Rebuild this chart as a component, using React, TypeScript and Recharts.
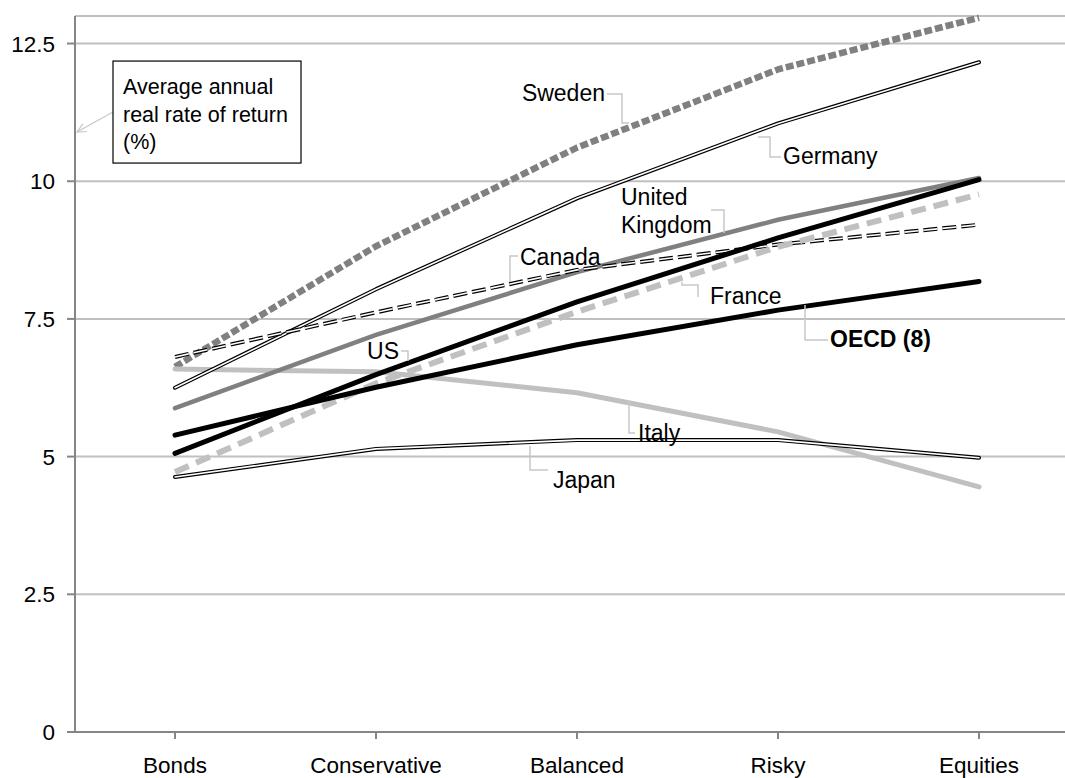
import { CartesianGrid, Line, LineChart, ReferenceDot, XAxis, YAxis } from "recharts";

const FONT = "'Liberation Sans', Arial, Helvetica, sans-serif";

const categories = ["Bonds", "Conservative", "Balanced", "Risky", "Equities"];
const sweden = [6.63, 8.82, 10.61, 12.03, 12.97];
const germany = [6.25, 8.04, 9.69, 11.05, 12.16];
const canada = [6.81, 7.62, 8.39, 8.85, 9.21];
const uk = [5.88, 7.21, 8.35, 9.3, 10.06];
const us = [5.06, 6.49, 7.81, 8.97, 10.03];
const oecd = [5.39, 6.26, 7.03, 7.66, 8.18];
const france = [4.72, 6.33, 7.63, 8.81, 9.76];
const italy = [6.59, 6.54, 6.16, 5.45, 4.45];
const japan = [4.63, 5.14, 5.3, 5.3, 4.98];
const yTicks = [0, 2.5, 5, 7.5, 10, 12.5];

const data = categories.map((name, i) => ({
  name,
  sweden: sweden[i],
  germany: germany[i],
  canada: canada[i],
  uk: uk[i],
  us: us[i],
  oecd: oecd[i],
  france: france[i],
  italy: italy[i],
  japan: japan[i],
}));

type Series = { key: string; stroke: string; width: number; dash?: string; double?: boolean; cap?: "round" | "butt" };

// draw order = z order
const series: Series[] = [
  { key: "sweden", stroke: "#808080", width: 6.5, dash: "8 3" },
  { key: "italy", stroke: "#c0c0c0", width: 5, cap: "round" },
  { key: "japan", stroke: "#000000", width: 4, double: true, cap: "round" },
  { key: "uk", stroke: "#808080", width: 4.5, cap: "round" },
  { key: "germany", stroke: "#000000", width: 4, double: true, cap: "round" },
  { key: "canada", stroke: "#000000", width: 4, dash: "14 5", double: true },
  { key: "france", stroke: "#c0c0c0", width: 6, dash: "15 8" },
  { key: "oecd", stroke: "#000000", width: 5, cap: "round" },
  { key: "us", stroke: "#000000", width: 5, cap: "round" },
];

type Note = {
  cat: string;
  val: number;
  lines: string[];
  tx: number;
  ty: number;
  anchor: "start" | "end";
  path: number[][];
  bold?: boolean;
};

const notes: Note[] = [
  { cat: "Balanced", val: 11.6, lines: ["Sweden"], tx: 28, ty: 0, anchor: "end", path: [[30, 1], [45, 1], [45, 30], [52, 30]] },
  { cat: "Risky", val: 10.46, lines: ["Germany"], tx: 5, ty: 0, anchor: "start", path: [[-20, -19], [-8, -19], [-8, 1], [3, 1]] },
  { cat: "Balanced", val: 9.477, lines: ["United", "Kingdom"], tx: 44, ty: -13, anchor: "start", path: [[134, 0], [147, 0], [147, 23]] },
  { cat: "Balanced", val: 8.624, lines: ["Canada"], tx: -57, ty: 0, anchor: "start", path: [[-59, -1], [-67, -1], [-67, 25]] },
  { cat: "Risky", val: 7.916, lines: ["France"], tx: -68, ty: 0, anchor: "start", path: [[-96, -14], [-96, -11], [-80, -11], [-80, 1]] },
  { cat: "Risky", val: 7.135, lines: ["OECD (8)"], tx: 52, ty: 0, anchor: "start", path: [[27, -34], [27, 1], [50, 1]], bold: true },
  { cat: "Conservative", val: 6.917, lines: ["US"], tx: 23, ty: 0, anchor: "end", path: [[25, 0], [32, 0], [32, 10]] },
  { cat: "Balanced", val: 5.428, lines: ["Italy"], tx: 61, ty: 0, anchor: "start", path: [[52, -31], [52, 0], [58, 0]] },
  { cat: "Balanced", val: 4.575, lines: ["Japan"], tx: -24, ty: 0, anchor: "start", path: [[-47, -34], [-47, -10], [-29, -10]] },
];

const titleLines = ["Average annual", "real rate of return", "(%)"];

function NoteShape({ cx, cy, note }: { cx?: number; cy?: number; note: Note }) {
  if (cx == null || cy == null) return null;
  const pts = note.path.map(([dx, dy]) => `${cx + dx},${cy + dy}`).join(" ");
  return (
    <g>
      <polyline points={pts} fill="none" stroke="#c8c8c8" strokeWidth={1.5} />
      {note.lines.map((t, i) => (
        <text
          key={t}
          x={cx + note.tx}
          y={cy + note.ty + i * 28}
          textAnchor={note.anchor}
          dominantBaseline="central"
          fontFamily={FONT}
          fontSize={23}
          fontWeight={note.bold ? "bold" : "normal"}
          fill="#000"
        >
          {t}
        </text>
      ))}
    </g>
  );
}

function TitleBox({ cx, cy }: { cx?: number; cy?: number }) {
  if (cx == null || cy == null) return null;
  const sx = cx - 62;
  const sy = cy;
  const ex = cx - 98;
  const ey = cy + 20;
  const ang = Math.atan2(ey - sy, ex - sx);
  const head = (da: number) => `${ex - 10 * Math.cos(ang + da)},${ey - 10 * Math.sin(ang + da)}`;
  return (
    <g>
      <line x1={sx} y1={sy} x2={ex} y2={ey} stroke="#c8c8c8" strokeWidth={1.2} />
      <polyline points={`${head(0.45)} ${ex},${ey} ${head(-0.45)}`} fill="none" stroke="#c8c8c8" strokeWidth={1.2} />
      <rect x={cx - 62} y={cy - 51} width={188} height={102} fill="#fff" stroke="#000" strokeWidth={1.2} />
      {titleLines.map((t, i) => (
        <text key={t} x={cx - 52} y={cy - 25 + i * 27.5} dominantBaseline="central" fontFamily={FONT} fontSize={21.5} fill="#000">
          {t}
        </text>
      ))}
    </g>
  );
}

export default function App() {
  return (
    <div style={{ position: "absolute", left: 0, top: 0, width: 1065, height: 778, background: "#fff" }}>
      <LineChart width={1065} height={778} data={data} margin={{ top: 16, right: 0, bottom: 0, left: 0 }}>
        <CartesianGrid vertical={false} stroke="#c0c0c0" strokeWidth={2} />
        <XAxis
          dataKey="name"
          scale="point"
          padding={{ left: 100, right: 86 }}
          height={46}
          stroke="#868686"
          strokeWidth={2}
          tickSize={7}
          tickMargin={18}
          tick={{ fill: "#000", fontSize: 22.5, fontFamily: FONT }}
        />
        <YAxis
          domain={[0, 13]}
          ticks={yTicks}
          width={75}
          stroke="#868686"
          strokeWidth={2}
          tickSize={8}
          tickMargin={12}
          tick={{ fill: "#000", fontSize: 22.5, fontFamily: FONT }}
        />
        {series.flatMap((s) => {
          const out = [
            <Line
              key={s.key}
              dataKey={s.key}
              type="linear"
              stroke={s.stroke}
              strokeWidth={s.width}
              strokeDasharray={s.dash}
              strokeLinecap={s.cap ?? "butt"}
              strokeLinejoin="round"
              dot={false}
              activeDot={false}
              isAnimationActive={false}
            />,
          ];
          if (s.double) {
            out.push(
              <Line
                key={s.key + "-inner"}
                dataKey={s.key}
                type="linear"
                stroke="#ffffff"
                strokeWidth={1.6}
                strokeDasharray={s.dash}
                strokeLinecap={s.cap ?? "butt"}
                strokeLinejoin="round"
                dot={false}
                activeDot={false}
                legendType="none"
                isAnimationActive={false}
              />
            );
          }
          return out;
        })}
        {notes.map((n) => (
          <ReferenceDot
            key={n.lines.join(" ")}
            x={n.cat}
            y={n.val}
            r={0}
            ifOverflow="visible"
            shape={(p: any) => <NoteShape cx={p.cx} cy={p.cy} note={n} />}
          />
        ))}
        <ReferenceDot
          x="Bonds"
          y={11.256}
          r={0}
          ifOverflow="visible"
          shape={(p: any) => <TitleBox cx={p.cx} cy={p.cy} />}
        />
      </LineChart>
    </div>
  );
}
